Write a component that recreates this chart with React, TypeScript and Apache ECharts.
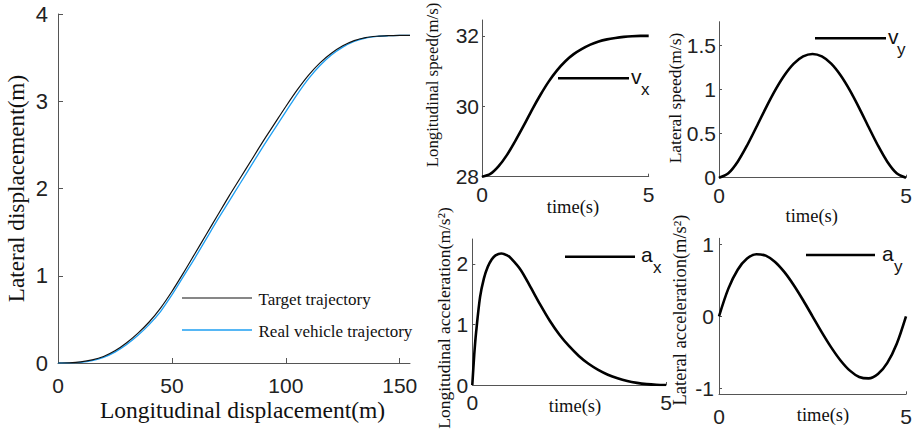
import React, { useEffect, useRef } from "react";
import * as echarts from "echarts";

// ---- Data ----
const trajX = [0, 5, 10, 15, 20, 25, 30, 35, 40, 45, 50, 55, 60, 65, 70, 75, 80, 85, 90, 95, 100, 105, 110, 115, 120, 125, 130, 135, 140, 145, 150, 154.5];
const targetY = [0, 0.002, 0.012, 0.035, 0.075, 0.14, 0.23, 0.34, 0.47, 0.63, 0.82, 1.03, 1.25, 1.47, 1.69, 1.91, 2.12, 2.33, 2.54, 2.74, 2.94, 3.13, 3.3, 3.44, 3.55, 3.635, 3.695, 3.73, 3.745, 3.752, 3.755, 3.756];
const realY = [0, 0.001, 0.008, 0.028, 0.065, 0.125, 0.21, 0.315, 0.44, 0.59, 0.78, 0.99, 1.2, 1.42, 1.64, 1.85, 2.06, 2.27, 2.48, 2.68, 2.88, 3.08, 3.26, 3.41, 3.53, 3.62, 3.685, 3.725, 3.743, 3.751, 3.755, 3.756];

const timeQ = [0, 0.25, 0.5, 0.75, 1, 1.25, 1.5, 1.75, 2, 2.25, 2.5, 2.75, 3, 3.25, 3.5, 3.75, 4, 4.25, 4.5, 4.75, 5];
const vx = [28, 28.08, 28.3, 28.62, 29.02, 29.45, 29.9, 30.32, 30.7, 31.02, 31.28, 31.48, 31.63, 31.75, 31.84, 31.9, 31.94, 31.97, 31.99, 32.0, 32.0];
const vy = [0, 0.051, 0.182, 0.366, 0.576, 0.791, 0.992, 1.164, 1.296, 1.378, 1.406, 1.378, 1.296, 1.164, 0.992, 0.791, 0.576, 0.366, 0.182, 0.051, 0];
const ay = [0, 0.385, 0.648, 0.803, 0.864, 0.844, 0.756, 0.614, 0.432, 0.223, 0, -0.223, -0.432, -0.614, -0.756, -0.844, -0.864, -0.803, -0.648, -0.385, 0];

const timeAx = [0, 0.05, 0.1, 0.2, 0.3, 0.4, 0.5, 0.6, 0.75, 0.9, 1.0, 1.25, 1.5, 1.75, 2.0, 2.25, 2.5, 2.75, 3.0, 3.25, 3.5, 3.75, 4.0, 4.25, 4.5, 4.75, 5.0];
const ax = [0, 0.5, 0.88, 1.45, 1.76, 1.95, 2.07, 2.14, 2.17, 2.14, 2.09, 1.9, 1.62, 1.33, 1.06, 0.83, 0.64, 0.48, 0.35, 0.25, 0.17, 0.11, 0.065, 0.035, 0.015, 0.004, 0];

const mainXTicks = [0, 50, 100, 150];
const mainYTicks = [0, 1, 2, 3, 4];
const timeTicks = [0, 5];
const vxTicks = [28, 30, 32];
const vyTicks = [0, 0.5, 1, 1.5];
const axTicks = [0, 1, 2];
const ayTicks = [-1, 0, 1];

const SERIF = "'Liberation Serif', 'Times New Roman', serif";
const SANS = "'Liberation Sans', Arial, sans-serif";
const AXIS_COLOR = "#555";
const LABEL_COLOR = "#222";

const pairs = (xs: number[], ys: number[]) => xs.map((x, i) => [x, ys[i]]);

function makeX(gridIndex: number, min: number, max: number, ticks: number[], tickLen: number, margin: number, fontSize: number) {
  return {
    type: "value",
    gridIndex,
    min,
    max,
    splitLine: { show: false },
    axisLine: { show: true, onZero: false, lineStyle: { color: AXIS_COLOR, width: 1 } },
    axisTick: { show: true, inside: true, length: tickLen, customValues: ticks, lineStyle: { color: AXIS_COLOR } },
    axisLabel: { customValues: ticks, color: LABEL_COLOR, fontFamily: SANS, fontSize, margin },
  };
}
function makeY(gridIndex: number, min: number, max: number, ticks: number[], tickLen: number, margin: number, fontSize: number) {
  return {
    type: "value",
    gridIndex,
    min,
    max,
    splitLine: { show: false },
    axisLine: { show: true, onZero: false, lineStyle: { color: AXIS_COLOR, width: 1 } },
    axisTick: { show: true, inside: true, length: tickLen, customValues: ticks, lineStyle: { color: AXIS_COLOR } },
    axisLabel: { customValues: ticks, color: LABEL_COLOR, fontFamily: SANS, fontSize, margin },
  };
}

function vText(x: number, y: number, text: string, size: number) {
  return {
    type: "text",
    x,
    y,
    rotation: Math.PI / 2,
    style: { text, font: `${size}px ${SERIF}`, fill: "#111", align: "center", verticalAlign: "middle" },
  };
}
function hText(x: number, y: number, text: string, size: number, family = SERIF, align = "center") {
  return {
    type: "text",
    x,
    y,
    style: { text, font: `${size}px ${family}`, fill: "#111", align, verticalAlign: "middle" },
  };
}
function legLine(x1: number, x2: number, y: number, color: string, w: number) {
  return { type: "line", shape: { x1, y1: y, x2, y2: y }, style: { stroke: color, lineWidth: w } };
}

export default function App() {
  const ref = useRef<HTMLDivElement>(null);
  useEffect(() => {
    if (!ref.current) return;
    const chart = echarts.init(ref.current, undefined, { renderer: "svg" });
    const thick = { color: "#000", width: 2.6 };
    chart.setOption({
      animation: false,
      backgroundColor: "#fff",
      grid: [
        { left: 58, top: 14, width: 352, height: 349 },
        { left: 482, top: 20, width: 166.7, height: 156.7 },
        { left: 719, top: 21.7, width: 187, height: 156 },
        { left: 472.3, top: 239, width: 193.7, height: 146 },
        { left: 719, top: 238.3, width: 187, height: 156 },
      ],
      xAxis: [
        makeX(0, 0, 154.5, mainXTicks, 5, 12, 21),
        makeX(1, 0, 5, timeTicks, 3, 7, 21),
        makeX(2, 0, 5, timeTicks, 3, 7, 21),
        makeX(3, 0, 5, timeTicks, 3, 7, 21),
        makeX(4, 0, 5, timeTicks, 3, 12, 21),
      ],
      yAxis: [
        makeY(0, 0, 4, mainYTicks, 5, 10, 22),
        makeY(1, 28, 32.45, vxTicks, 3, 3, 21),
        makeY(2, 0, 1.773, vyTicks, 3, 3, 21),
        makeY(3, 0, 2.41, axTicks, 3, 4, 21),
        makeY(4, -1.085, 1.085, ayTicks, 3, 5, 21),
      ],
      series: [
        { type: "line", xAxisIndex: 0, yAxisIndex: 0, data: pairs(trajX, realY), smooth: 0.3, showSymbol: false, lineStyle: { color: "#1e9ff2", width: 1.3 } },
        { type: "line", xAxisIndex: 0, yAxisIndex: 0, data: pairs(trajX, targetY), smooth: 0.3, showSymbol: false, lineStyle: { color: "#111", width: 1.2 } },
        { type: "line", xAxisIndex: 1, yAxisIndex: 1, data: pairs(timeQ, vx), smooth: 0.3, showSymbol: false, lineStyle: thick },
        { type: "line", xAxisIndex: 2, yAxisIndex: 2, data: pairs(timeQ, vy), smooth: 0.3, showSymbol: false, lineStyle: thick },
        { type: "line", xAxisIndex: 3, yAxisIndex: 3, data: pairs(timeAx, ax), smooth: 0.3, showSymbol: false, lineStyle: thick },
        { type: "line", xAxisIndex: 4, yAxisIndex: 4, data: pairs(timeQ, ay), smooth: 0.3, showSymbol: false, lineStyle: thick },
      ],
      graphic: [
        vText(16, 188.5, "Lateral displacement(m)", 23.2),
        hText(242.5, 409.5, "Longitudinal displacement(m)", 23.5),
        legLine(182, 252, 298, "#111", 1.2),
        legLine(182, 252, 330, "#1e9ff2", 1.3),
        hText(258.5, 299, "Target trajectory", 17, SERIF, "left"),
        hText(258.5, 331, "Real vehicle trajectory", 17, SERIF, "left"),

        vText(432, 85, "Longitudinal speed(m/s)", 16.8),
        hText(573, 207, "time(s)", 18.5),
        vText(675, 98, "Lateral speed(m/s)", 17.5),
        hText(811.7, 216, "time(s)", 18.5),
        vText(444, 318, "Longitudinal acceleration(m/s²)", 17.5),
        hText(575, 405.5, "time(s)", 18.5),
        vText(680, 310, "Lateral acceleration(m/s²)", 18.5),
        hText(823, 415, "time(s)", 18.5),

        legLine(558, 629, 78.3, "#000", 2.4),
        hText(631, 76, "v", 21, SANS, "left"),
        hText(641, 89, "x", 17, SANS, "left"),
        legLine(815, 886, 38.3, "#000", 2.4),
        hText(888, 36, "v", 21, SANS, "left"),
        hText(897, 49, "y", 17, SANS, "left"),
        legLine(565, 635, 256.7, "#000", 2.4),
        hText(641, 254, "a", 21, SANS, "left"),
        hText(653, 267, "x", 17, SANS, "left"),
        legLine(806, 875, 255, "#000", 2.4),
        hText(882, 253, "a", 21, SANS, "left"),
        hText(894, 266, "y", 17, SANS, "left"),
      ],
    });
    return () => chart.dispose();
  }, []);
  return <div ref={ref} style={{ position: "absolute", left: 0, top: 0, width: 918, height: 435 }} />;
}
